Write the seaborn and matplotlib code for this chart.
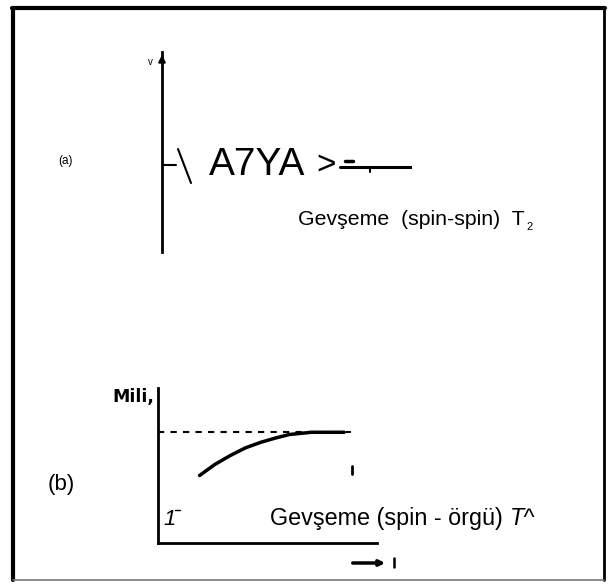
import numpy as np
import pandas as pd
import matplotlib
matplotlib.use("Agg")
import matplotlib.pyplot as plt
import seaborn as sns

# (b) boyuna durulma: M(t) doyuma gidiyor
t_curve = [1.9, 2.6, 3.3, 4.0, 4.7, 5.4, 6.0, 7.0, 8.5]
m_curve = [0.61, 0.71, 0.79, 0.86, 0.91, 0.95, 0.98, 1.0, 1.0]
t_dash = [0.0, 8.8]
m_dash = [1.0, 1.0]

# (a) sinyal izinin görünen parçaları
a_trace1_x = [0.0, 0.55]
a_trace1_y = [0.0, 0.0]
a_trace2_x = [7.1, 10.0]
a_trace2_y = [-0.02, -0.02]

W, H = 612, 586

sns.set_theme(style="white")
plt.rcParams["font.family"] = ["Liberation Sans", "DejaVu Sans"]
plt.rcParams["text.color"] = "black"

fig = plt.figure(figsize=(W / 100, H / 100), dpi=100)
bg = fig.add_axes([0, 0, 1, 1])
bg.set_xlim(0, W)
bg.set_ylim(H, 0)
bg.axis("off")

# çerçeve
bg.plot([12, 605], [8, 8], color="black", lw=3)
bg.plot([13, 13], [8, 580], color="black", lw=3)
bg.plot([604, 604], [8, 580], color="black", lw=2)
bg.plot([13, 604], [580, 580], color="#777777", lw=1.2)


def frac_axes(x0, x1, y0, y1):
    return fig.add_axes([x0 / W, 1 - y1 / H, (x1 - x0) / W, (y1 - y0) / H])


# ---- panel (a) ----
axa = frac_axes(162, 412, 52, 252)
axa.set_xlim(0, 10)
axa.set_ylim(-0.87, 1.13)
sns.lineplot(x=a_trace1_x, y=a_trace1_y, ax=axa, color="black", lw=1.5)
sns.lineplot(x=a_trace2_x, y=a_trace2_y, ax=axa, color="black", lw=2.2)
axa.patch.set_alpha(0)
for s in ["top", "right", "bottom"]:
    axa.spines[s].set_visible(False)
axa.spines["left"].set_color("black")
axa.spines["left"].set_linewidth(2)
axa.set_xticks([])
axa.set_yticks([])
axa.annotate("", xy=(0, 1.13), xytext=(0, 1.0), xycoords="data",
             arrowprops=dict(arrowstyle="-|>", color="black", lw=1.5,
                             mutation_scale=10), annotation_clip=False)

bg.plot([178, 191], [149, 183], color="black", lw=1.5)
bg.text(150, 62, "v", fontsize=7, ha="center", va="center")
bg.text(58, 161, "(a)", fontsize=8.5, ha="left", va="center")
bg.text(209, 175, "A7YA", fontsize=28, ha="left", va="baseline")
bg.text(316, 175, ">", fontsize=24, ha="left", va="baseline")
bg.plot([345, 353], [161, 161], color="black", lw=2.5)
bg.plot([370, 370], [167, 172], color="black", lw=1.5)
ta = bg.text(298, 225, "Gevşeme  (spin-spin)  T", fontsize=15.3, ha="left",
             va="baseline")
bg.annotate("2", xy=(1, 0), xycoords=ta, xytext=(1, -2),
            textcoords="offset points", fontsize=8, ha="left", va="bottom")

# ---- panel (b) ----
axb = frac_axes(158, 377, 388, 543)
axb.set_xlim(0, 10)
axb.set_ylim(0, 1.4)
sns.lineplot(x=t_dash, y=m_dash, ax=axb, color="black", lw=1.5,
             linestyle=(0, (3, 3)))
sns.lineplot(x=t_curve, y=m_curve, ax=axb, color="black", lw=2.5)
axb.patch.set_alpha(0)
for s in ["top", "right"]:
    axb.spines[s].set_visible(False)
for s in ["left", "bottom"]:
    axb.spines[s].set_color("black")
    axb.spines[s].set_linewidth(2)
axb.set_xticks([])
axb.set_yticks([])

bg.text(112, 402, "Mili,", fontsize=12.5, fontweight="semibold",
        family="DejaVu Sans", ha="left", va="baseline")
bg.text(48, 490, "(b)", fontsize=16, ha="left", va="baseline")
bg.text(163, 525, "1", fontsize=16, style="italic", ha="left",
        va="baseline")
bg.plot([175, 180], [510, 510], color="black", lw=1)
tb = bg.text(270, 525, "Gevşeme (spin - örgü)", fontsize=16.8, ha="left",
             va="baseline")
bg.annotate("T^", xy=(1, 0), xycoords=tb, xytext=(5, 0),
            textcoords="offset points", fontsize=16.8, style="italic",
            ha="left", va="bottom")
bg.plot([352, 352], [466, 474], color="black", lw=2)

# t ekseni oku
bg.annotate("", xy=(388, 563), xytext=(350, 563),
            arrowprops=dict(arrowstyle="-|>", color="black", lw=2.5,
                            mutation_scale=8))
bg.plot([394, 394], [558, 567], color="black", lw=1.8)

fig.savefig("out.png", dpi=100)
